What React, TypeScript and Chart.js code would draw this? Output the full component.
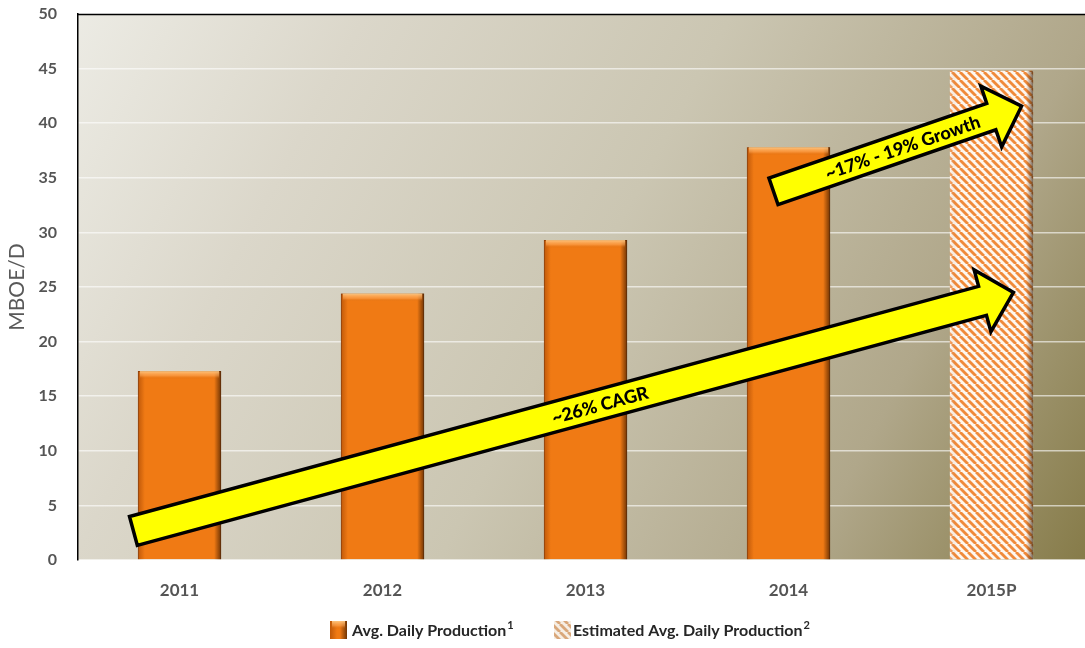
import React, { useEffect, useRef } from 'react';
import { Chart, registerables } from 'chart.js';
Chart.register(...registerables);

const categories = ['2011', '2012', '2013', '2014', '2015P'];
const actualValues = [17.3, 24.4, 29.3, 37.8, null];
const estimatedValues = [null, null, null, null, 44.8];
const yMin = 0;
const yMax = 50;
const yStep = 5;
const seriesLabels = ['Avg. Daily Production', 'Estimated Avg. Daily Production'];
const seriesSup = ['1', '2'];
const yTitle = 'MBOE/D';
// arrows in data coordinates: [category index, value]
const arrowFrom = [[-0.227, 2.66], [2.926, 33.76]];
const arrowTo = [[4.108, 24.5], [4.148, 41.56]];
const arrowText = ['~26% CAGR', '~17% - 19% Growth'];
const arrowTextAt = [0.53, 0.52];

const FONT = 'Lato, "Open Sans", sans-serif';
const ORANGE = '#f07a14';

function makeHatch(color: string, bg: string) {
  const c = document.createElement('canvas');
  c.width = 8;
  c.height = 8;
  const g = c.getContext('2d')!;
  g.fillStyle = bg;
  g.fillRect(0, 0, 8, 8);
  g.strokeStyle = color;
  g.lineWidth = 2.8;
  for (const k of [-8, 0, 8]) {
    g.beginPath();
    g.moveTo(k, 0);
    g.lineTo(k + 8, 8);
    g.stroke();
  }
  return g.createPattern(c, 'repeat')!;
}

function drawArrow(ctx: CanvasRenderingContext2D, x1: number, y1: number, x2: number, y2: number, half: number, headHalf: number, headLen: number) {
  const dx = x2 - x1, dy = y2 - y1;
  const len = Math.hypot(dx, dy);
  const ux = dx / len, uy = dy / len;
  const nx = -uy, ny = ux;
  const bx = x2 - ux * headLen, by = y2 - uy * headLen;
  const pts = [
    [x1 + nx * half, y1 + ny * half],
    [bx + nx * half, by + ny * half],
    [bx + nx * headHalf, by + ny * headHalf],
    [x2, y2],
    [bx - nx * headHalf, by - ny * headHalf],
    [bx - nx * half, by - ny * half],
    [x1 - nx * half, y1 - ny * half],
  ];
  ctx.beginPath();
  pts.forEach((p, i) => (i ? ctx.lineTo(p[0], p[1]) : ctx.moveTo(p[0], p[1])));
  ctx.closePath();
  ctx.fillStyle = '#ffff00';
  ctx.fill();
  ctx.lineWidth = 3.5;
  ctx.lineJoin = 'miter';
  ctx.strokeStyle = '#000';
  ctx.stroke();
}

function bevel(ctx: CanvasRenderingContext2D, x: number, y: number, base: number, width: number, dark: boolean) {
  const L = x - width / 2, R = x + width / 2;
  const h = base - y;
  let g = ctx.createLinearGradient(L, 0, L + 7, 0);
  g.addColorStop(0, dark ? 'rgba(150,60,0,0.55)' : 'rgba(255,255,255,0.25)');
  g.addColorStop(1, 'rgba(150,60,0,0)');
  ctx.fillStyle = g;
  ctx.fillRect(L, y, 7, h);
  g = ctx.createLinearGradient(R - 7, 0, R, 0);
  g.addColorStop(0, 'rgba(80,35,0,0)');
  g.addColorStop(1, dark ? 'rgba(80,35,0,0.8)' : 'rgba(60,40,20,0.7)');
  ctx.fillStyle = g;
  ctx.fillRect(R - 7, y, 7, h);
  if (dark) {
    g = ctx.createLinearGradient(0, y, 0, y + 8);
    g.addColorStop(0, 'rgba(255,200,130,0.95)');
    g.addColorStop(0.6, 'rgba(255,170,90,0.5)');
    g.addColorStop(1, 'rgba(200,90,0,0)');
    ctx.fillStyle = g;
    ctx.fillRect(L + 2, y, width - 4, 8);
  }
}

export default function App() {
  const ref = useRef<HTMLCanvasElement>(null);
  useEffect(() => {
    const canvas = ref.current!;
    const hatch = makeHatch('#f08a3a', '#fdf7f0');
    const legendHatch = makeHatch('#d9a77a', '#f6eee4');

    const plugin = {
      id: 'custom',
      beforeDraw(chart: any) {
        const { ctx, chartArea: a } = chart;
        const g = ctx.createLinearGradient(a.left, a.top, a.right, a.bottom);
        g.addColorStop(0, '#ecebe4');
        g.addColorStop(0.22, '#dbd7ca');
        g.addColorStop(0.5, '#cbc6b2');
        g.addColorStop(0.78, '#b0a78a');
        g.addColorStop(1, '#857a47');
        ctx.save();
        ctx.fillStyle = g;
        ctx.fillRect(a.left, a.top, a.right - a.left, a.bottom - a.top);
        ctx.restore();
      },
      afterDatasetDraw(chart: any, args: any) {
        const { ctx } = chart;
        const meta = args.meta;
        ctx.save();
        meta.data.forEach((el: any, i: number) => {
          const v = chart.data.datasets[args.index].data[i];
          if (v == null) return;
          const p = el.getProps(['x', 'y', 'base', 'width'], true);
          bevel(ctx, p.x, p.y, p.base, p.width, args.index === 0);
        });
        ctx.restore();
      },
      afterDraw(chart: any) {
        const { ctx, chartArea: a, scales } = chart;
        const xs = scales.x, ys = scales.y;
        ctx.save();
        // top border
        ctx.strokeStyle = '#000';
        ctx.lineWidth = 1.5;
        ctx.beginPath();
        ctx.moveTo(a.left, a.top + 0.5);
        ctx.lineTo(a.right, a.top + 0.5);
        ctx.stroke();
        // arrows
        for (let k = 0; k < arrowFrom.length; k++) {
          const x1 = xs.getPixelForValue(arrowFrom[k][0]);
          const y1 = ys.getPixelForValue(arrowFrom[k][1]);
          const x2 = xs.getPixelForValue(arrowTo[k][0]);
          const y2 = ys.getPixelForValue(arrowTo[k][1]);
          drawArrow(ctx, x1, y1, x2, y2, k === 0 ? 15 : 14, 32, 32);
          const t = arrowTextAt[k];
          ctx.save();
          ctx.translate(x1 + (x2 - x1) * t, y1 + (y2 - y1) * t);
          ctx.rotate(Math.atan2(y2 - y1, x2 - x1));
          ctx.fillStyle = '#000';
          ctx.font = `900 18px ${FONT}`;
          ctx.textAlign = 'center';
          ctx.textBaseline = 'middle';
          ctx.fillText(arrowText[k], 0, 1);
          ctx.restore();
        }
        // legend
        const cy = 630;
        const items = [
          { x: 330, fill: ORANGE },
          { x: 554, fill: legendHatch },
        ];
        ctx.textBaseline = 'middle';
        ctx.textAlign = 'left';
        items.forEach((it, i) => {
          ctx.fillStyle = it.fill as any;
          ctx.fillRect(it.x, cy - 9, 17, 18);
          if (i === 0) bevel(ctx, it.x + 8.5, cy - 9, cy + 9, 17, true);
          const tx = it.x + (i === 0 ? 22 : 19);
          ctx.fillStyle = '#262626';
          ctx.font = `bold 16px ${FONT}`;
          ctx.fillText(seriesLabels[i], tx, cy + 1);
          const w = ctx.measureText(seriesLabels[i]).width;
          ctx.font = `bold 11px ${FONT}`;
          ctx.fillText(seriesSup[i], tx + w + 1, cy - 5);
        });
        ctx.restore();
      },
    };

    const chart = new Chart(canvas, {
      type: 'bar',
      data: {
        labels: categories,
        datasets: [
          {
            label: seriesLabels[0],
            data: actualValues as any,
            backgroundColor: ORANGE,
            borderColor: '#8a400a',
            borderWidth: 1,
            barPercentage: 0.41,
            categoryPercentage: 1,
            grouped: false,
          } as any,
          {
            label: seriesLabels[1],
            data: estimatedValues as any,
            backgroundColor: hatch,
            borderColor: 'rgba(200,120,60,0.6)',
            borderWidth: 0,
            barPercentage: 0.41,
            categoryPercentage: 1,
            grouped: false,
          } as any,
        ],
      },
      options: {
        responsive: false,
        animation: false,
        devicePixelRatio: 1,
        layout: { padding: { top: 14, left: 0, right: 0, bottom: 0 } },
        plugins: { legend: { display: false }, tooltip: { enabled: false } },
        scales: {
          x: {
            grid: { display: false, drawTicks: false },
            border: { display: false },
            ticks: { color: '#555555', font: { family: FONT, size: 17, weight: 'bold' }, padding: 20 },
            afterFit: (s: any) => { s.height = 88; s.paddingLeft = 0; s.paddingRight = 0; },
          },
          y: {
            min: yMin,
            max: yMax,
            ticks: { stepSize: yStep, color: '#555555', font: { family: FONT, size: 16, weight: 'bold' }, padding: 21 },
            grid: { color: 'rgba(255,255,255,0.6)', lineWidth: 1.5, drawTicks: false },
            border: { display: true, color: '#000', width: 1.5 },
            title: { display: true, text: yTitle, color: '#595959', font: { family: FONT, size: 21 }, padding: { top: 5, bottom: 0 } },
            afterFit: (s: any) => { s.width = 78; s.paddingTop = 0; s.paddingBottom = 0; },
          },
        },
      },
      plugins: [plugin],
    } as any);
    return () => chart.destroy();
  }, []);

  return (
    <div style={{ position: 'fixed', left: 0, top: 0, width: 1085, height: 648, overflow: 'hidden', background: '#fff' }}>
      <canvas ref={ref} width={1093} height={648} style={{ width: 1093, height: 648, display: 'block' }} />
    </div>
  );
}
